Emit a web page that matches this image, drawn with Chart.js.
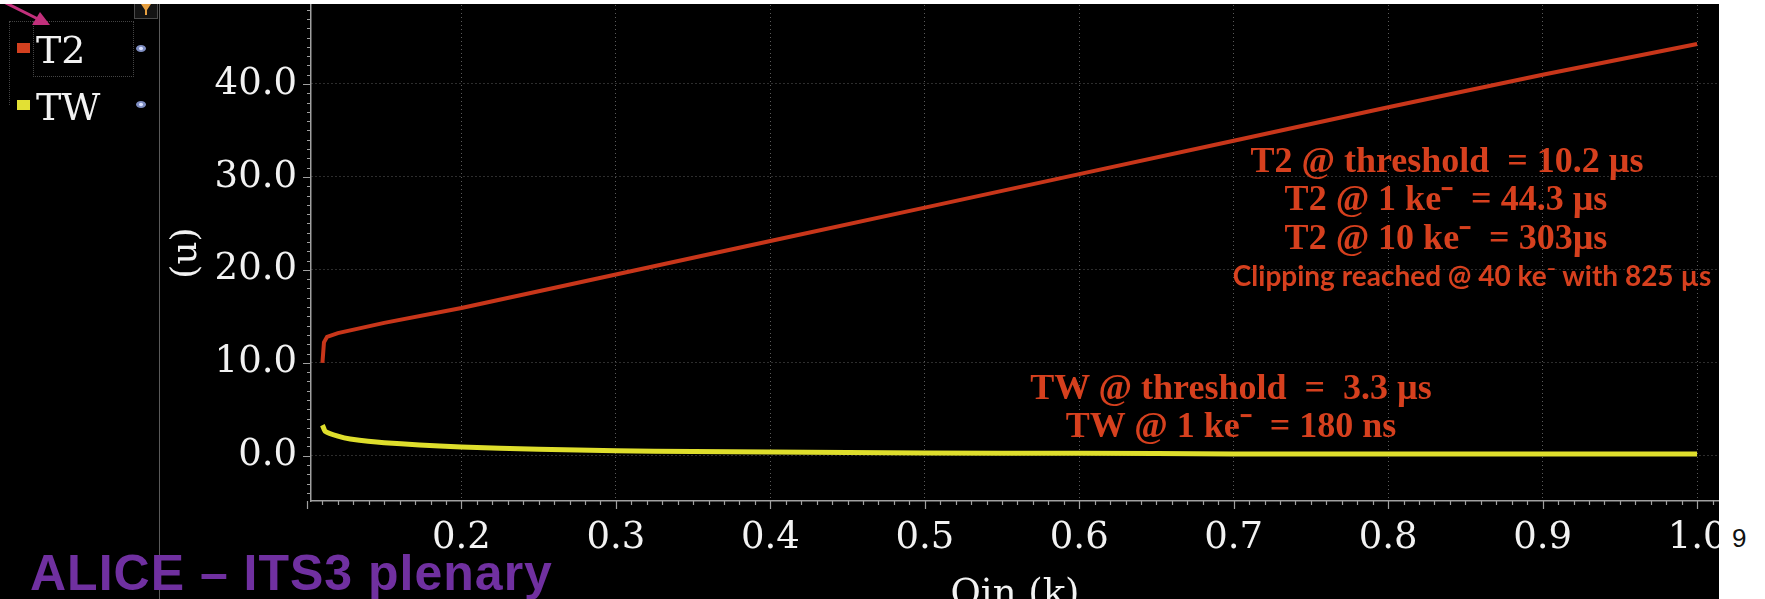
<!DOCTYPE html>
<html>
<head>
<meta charset="utf-8">
<script src="https://cdn.jsdelivr.net/npm/chart.js@4.4.1/dist/chart.umd.min.js"></script>
<style>
  html, body { margin: 0; padding: 0; background: #000; width: 1765px; height: 599px; overflow: hidden; }
  #wrap { position: relative; width: 1765px; height: 599px; overflow: hidden; background: #000; }
  #plot { position: absolute; left: 0; top: 0; background: #000; }
  .abs { position: absolute; }
  .note { position: absolute; transform: translate(-50%, -50%); white-space: pre; line-height: 1;
          color: #d6401e; font-weight: bold; font-family: "Liberation Serif", serif; font-size: 36px; }
  .note.sans { font-family: "Lato", sans-serif; font-size: 28px; }
  .leg { position: absolute; left: 36px; color: #f2f2f2; font-family: "DejaVu Serif", serif; font-size: 38px; line-height: 1; }
  .swatch { position: absolute; left: 17px; width: 13px; height: 10px; }
  .eye { position: absolute; left: 136px; width: 10px; height: 7px; border-radius: 50%;
         background: radial-gradient(circle, #d8e0ff 0 25%, #7d8cc0 35%); }
</style>
</head>
<body>
<div id="wrap">
  <canvas id="plot" width="1765" height="640"></canvas>

  <!-- left legend panel -->
  <div class="abs" style="left:159px;top:4px;width:1px;height:595px;background:#5a5a5a;"></div>
  <div class="abs" style="left:9px;top:21px;width:0;height:84px;border-left:1px dotted #444;"></div>
  <div class="abs" style="left:9px;top:21px;width:24px;height:0;border-top:1px dotted #444;"></div>
  <div class="abs" style="left:33px;top:21px;width:99px;height:54px;border:1px dotted #444;"></div>
  <div class="swatch" style="top:43px;background:#d2401f;"></div>
  <div class="leg" style="top:31px;">T2</div>
  <div class="swatch" style="top:100px;background:#e2e034;"></div>
  <div class="leg" style="top:88px;">TW</div>
  <div class="eye" style="top:45px;"></div>
  <div class="eye" style="top:101px;"></div>
  <div class="abs" style="left:134px;top:0;width:22px;height:17px;border:1px solid #4a4a4a;background:#141414;">
    <svg width="22" height="17"><polygon points="6,3 16,3 12,9 12,14 10,14 10,9" fill="#e8a040"/></svg>
  </div>
  <svg class="abs" style="left:0;top:0;" width="60" height="40">
    <line x1="-2" y1="-1" x2="42" y2="21" stroke="#c2307c" stroke-width="3"/>
    <polygon points="50,25 32,25 40,12" fill="#c2307c"/>
  </svg>

  <!-- annotations -->
  <div class="note" style="left:1447px;top:160px;">T2 @ threshold  = 10.2 µs</div>
  <div class="note" style="left:1446px;top:198px;">T2 @ 1 ke⁻  = 44.3 µs</div>
  <div class="note" style="left:1446px;top:237px;">T2 @ 10 ke⁻  = 303µs</div>
  <div class="note sans" style="left:1472px;top:275px;">Clipping reached @ 40 ke⁻ with 825 µs</div>
  <div class="note" style="left:1231px;top:387px;">TW @ threshold  =  3.3 µs</div>
  <div class="note" style="left:1231px;top:425px;">TW @ 1 ke⁻  = 180 ns</div>

  <!-- slide frame -->
  <div class="abs" style="left:0;top:0;width:1719px;height:4px;background:#fff;"></div>
  <div class="abs" style="left:1719px;top:0;width:46px;height:599px;background:#fff;"></div>
  <div class="abs" style="left:1732px;top:525px;font-family:'Liberation Sans',sans-serif;font-size:26px;line-height:1;color:#111;">9</div>
  <div class="abs" style="left:30px;top:548px;font-family:'Liberation Sans',sans-serif;font-weight:bold;font-size:50px;letter-spacing:1px;line-height:1;color:#7030a0;white-space:pre;">ALICE – ITS3 plenary</div>
</div>

<script>
// T2 curve (µs) vs Qin (k)
const T2_QIN = [0.110, 0.111, 0.113, 0.12, 0.15, 0.2, 0.3, 0.4, 0.5, 0.6, 0.7, 0.8, 0.9, 1.0];
const T2_US = [10.0, 12.2, 12.8, 13.2, 14.3, 15.9, 19.5, 23.1, 26.7, 30.3, 33.9, 37.5, 41.0, 44.3];

// TW curve (µs) vs Qin (k)
const TW_QIN = [0.110, 0.112, 0.12, 0.128, 0.15, 0.2, 0.25, 0.3, 0.35, 0.4, 0.5, 0.6, 0.7, 0.8, 0.9, 1.0];
const TW_US = [3.3, 2.6, 2.1, 1.8, 1.4, 0.95, 0.7, 0.55, 0.45, 0.4, 0.3, 0.26, 0.2, 0.19, 0.18, 0.18];

const X_TICKS = [0.2, 0.3, 0.4, 0.5, 0.6, 0.7, 0.8, 0.9, 1.0];
const Y_TICKS = [0, 10, 20, 30, 40];

const T2_COLOR = "#c8361a";
const TW_COLOR = "#dede2c";
const AXIS_COLOR = "#a0a0a0";
const LABEL_FONT = { family: "'DejaVu Serif', serif", size: 37 };

const toPoints = (xs, ys) => xs.map((x, i) => ({ x, y: ys[i] }));

// small and large tick marks outside the plot, like the waveform viewer
const minorTicks = {
  id: "minorTicks",
  afterDraw(chart) {
    const { ctx, chartArea } = chart;
    const xs = chart.scales.x;
    const ys = chart.scales.y;
    ctx.save();
    ctx.strokeStyle = AXIS_COLOR;
    ctx.lineWidth = 1.2;
    ctx.beginPath();
    for (let i = 10; i <= 101; i++) {
      const px = Math.round(xs.getPixelForValue(i / 100)) + 0.5;
      const len = i % 10 === 0 ? 8 : 4;
      ctx.moveTo(px, chartArea.bottom);
      ctx.lineTo(px, chartArea.bottom + len);
    }
    for (let i = -4; i <= 48; i++) {
      const py = Math.round(ys.getPixelForValue(i)) + 0.5;
      const len = i % 10 === 0 ? 8 : 4;
      ctx.moveTo(chartArea.left, py);
      ctx.lineTo(chartArea.left - len, py);
    }
    ctx.stroke();
    ctx.restore();
  },
};

new Chart(document.getElementById("plot"), {
  type: "line",
  data: {
    datasets: [
      {
        label: "T2",
        data: toPoints(T2_QIN, T2_US),
        borderColor: T2_COLOR,
        borderWidth: 4,
        pointRadius: 0,
        tension: 0,
      },
      {
        label: "TW",
        data: toPoints(TW_QIN, TW_US),
        borderColor: TW_COLOR,
        borderWidth: 5,
        pointRadius: 0,
        tension: 0.2,
      },
    ],
  },
  options: {
    responsive: false,
    animation: false,
    layout: { padding: { top: 5, right: 46, bottom: 0, left: 0 } },
    plugins: {
      legend: { display: false },
      tooltip: { enabled: false },
    },
    scales: {
      x: {
        type: "linear",
        min: 0.1026,
        max: 1.0142,
        afterFit: (s) => { s.height = 139; s.paddingLeft = 0; s.paddingRight = 0; },
        afterBuildTicks: (s) => { s.ticks = X_TICKS.map((v) => ({ value: v })); },
        grid: { color: "rgba(120,120,120,0.75)", lineWidth: 1, drawTicks: false },
        border: { color: AXIS_COLOR, width: 1.5, dash: [1, 3] },
        ticks: {
          autoSkip: false,
          maxRotation: 0,
          padding: 15,
          color: "#f2f2f2",
          font: LABEL_FONT,
          callback: (v) => Number(v).toFixed(1),
        },
        title: {
          display: true,
          text: "Qin (k)",
          color: "#f2f2f2",
          font: LABEL_FONT,
          padding: { top: 0, bottom: 22 },
        },
      },
      y: {
        type: "linear",
        min: -4.87,
        max: 48.5,
        afterFit: (s) => { s.width = 311; s.paddingTop = 0; s.paddingBottom = 0; },
        afterBuildTicks: (s) => { s.ticks = Y_TICKS.map((v) => ({ value: v })); },
        grid: { color: "rgba(120,120,120,0.75)", lineWidth: 1, drawTicks: false },
        border: { color: AXIS_COLOR, width: 1.5, dash: [1, 3] },
        ticks: {
          padding: 14,
          color: "#f2f2f2",
          font: LABEL_FONT,
          callback: (v) => Number(v).toFixed(1),
        },
        title: {
          display: true,
          text: "(u)",
          color: "#f2f2f2",
          font: { family: "'DejaVu Serif', serif", size: 36 },
          padding: { top: 165, bottom: 0 },
        },
      },
    },
  },
  plugins: [minorTicks],
});
</script>
</body>
</html>
